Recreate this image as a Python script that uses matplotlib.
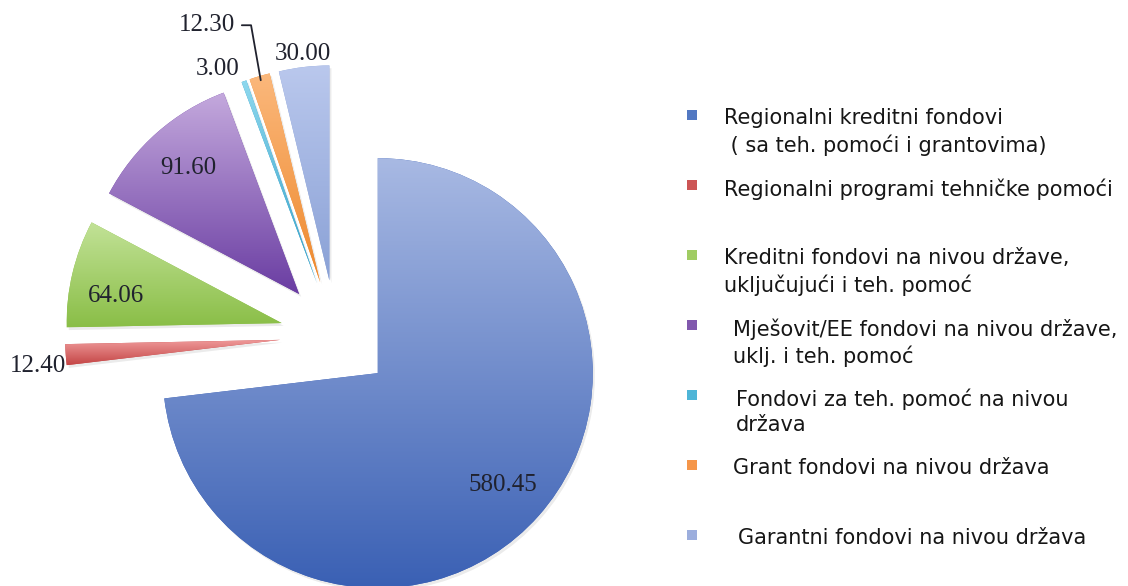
import numpy as np
import matplotlib
matplotlib.use("Agg")
import matplotlib.pyplot as plt
from matplotlib import colors as mcolors
from matplotlib import patheffects as pe

# fund types and their amounts
categories = [
    "Regionalni kreditni fondovi\n ( sa teh. pomoći i grantovima)",
    "Regionalni programi tehničke pomoći",
    "Kreditni fondovi na nivou države,\nuključujući i teh. pomoć",
    "Mješovit/EE fondovi na nivou države,\nuklj. i teh. pomoć",
    "Fondovi za teh. pomoć na nivou\ndržava",
    "Grant fondovi na nivou država",
    "Garantni fondovi na nivou država",
]
amounts = [580.45, 12.40, 64.06, 91.60, 3.00, 12.30, 30.00]

# gradient ends (top -> bottom) and legend swatch colours
light = ["#a8b9e3", "#f09c9c", "#c2e297", "#c4a9dd", "#8ed8ee", "#fbb87c", "#bac8ed"]
dark = ["#3a60b4", "#c44545", "#8abe47", "#6a3da2", "#34a0c8", "#ee892d", "#8aa1d6"]
swatch = ["#5278c2", "#cc5555", "#a0cc63", "#8158ad", "#4eb5d7", "#f5964a", "#9caedd"]

W, H = 1128, 586
R_PX = 215.0            # pie radius in pixels
CX, CY = 336.0, 250.0   # pie centre in pixels (from bottom-left)

fig = plt.figure(figsize=(W / 100, H / 100), dpi=100)
fig.patch.set_facecolor("white")

ax = fig.add_axes([0, 0, 1, 1])
wedges, _ = ax.pie(amounts, colors=dark, startangle=90, counterclock=False,
                   explode=[0.26] * len(amounts), radius=1.0, center=(0, 0),
                   wedgeprops=dict(linewidth=0), frame=True)

# vertical gradient fill per slice, plus a faint drop shadow
n = 256
t = np.linspace(0, 1, n)[:, None]
for w, c0, c1 in zip(wedges, light, dark):
    w.set_path_effects([pe.SimplePatchShadow(offset=(1.5, -2), shadow_rgbFace="black", alpha=0.08),
                        pe.Normal()])
    bb = w.get_path().get_extents()
    grad = (1 - t) * np.array(mcolors.to_rgb(c0)) + t * np.array(mcolors.to_rgb(c1))
    img = np.repeat(grad[:, None, :], 2, axis=1)
    im = ax.imshow(img, extent=(bb.x0, bb.x1, bb.y0, bb.y1), origin="upper",
                   interpolation="bilinear", aspect="auto", zorder=3)
    im.set_clip_path(w)


def spot(w, d, shift=0.0):
    a = np.deg2rad((w.theta1 + w.theta2) / 2 + shift)
    return w.center[0] + d * w.r * np.cos(a), w.center[1] + d * w.r * np.sin(a)


lbl = dict(family=["Liberation Serif", "DejaVu Serif"], fontsize=18, color="#20222e", zorder=5)
labels = [f"{v:.2f}" for v in amounts]

# inside labels
for i, sh in ((0, 0), (2, 4), (3, 0)):
    x, y = spot(wedges[i], 0.78, sh)
    ax.text(x, y, labels[i], ha="center", va="center", **lbl)

# outside labels for the thin slices
x, y = spot(wedges[1], 1.0)
ax.text(x, y, labels[1], ha="right", va="top", **lbl)
x, y = spot(wedges[4], 1.06)
ax.text(x, y, labels[4], ha="right", va="center", **lbl)
x, y = spot(wedges[6], 1.06)
ax.text(x, y, labels[6], ha="center", va="center", **lbl)
x, y = spot(wedges[5], 0.98)
ax.annotate(labels[5], xy=(x, y), xytext=(-54, 55), textcoords="offset pixels",
            ha="center", va="center",
            arrowprops=dict(arrowstyle="-", color="#20222e", lw=1.3, shrinkA=3, shrinkB=0,
                            connectionstyle="angle,angleA=0,angleB=100,rad=0"),
            **lbl)

ax.set_aspect("equal")
ax.set_xlim(-CX / R_PX, (W - CX) / R_PX)
ax.set_ylim(-CY / R_PX, (H - CY) / R_PX)
ax.axis("off")

# legend drawn in pixel coordinates (y downwards)
lax = fig.add_axes([0, 0, 1, 1])
lax.set_xlim(0, W)
lax.set_ylim(H, 0)
lax.axis("off")
indent = [0, 0, 0, 9, 12, 9, 14]
for i, (name, col) in enumerate(zip(categories, swatch)):
    my = 115 + 70 * i
    lax.plot([692], [my], marker="s", markersize=7.8, color=col, markeredgewidth=0)
    lax.text(724 + indent[i], my - 7, name, ha="left", va="top", fontsize=15,
             family=["DejaVu Sans"], color="#161616", linespacing=1.35)

fig.savefig("out.png", dpi=100, facecolor="white")
